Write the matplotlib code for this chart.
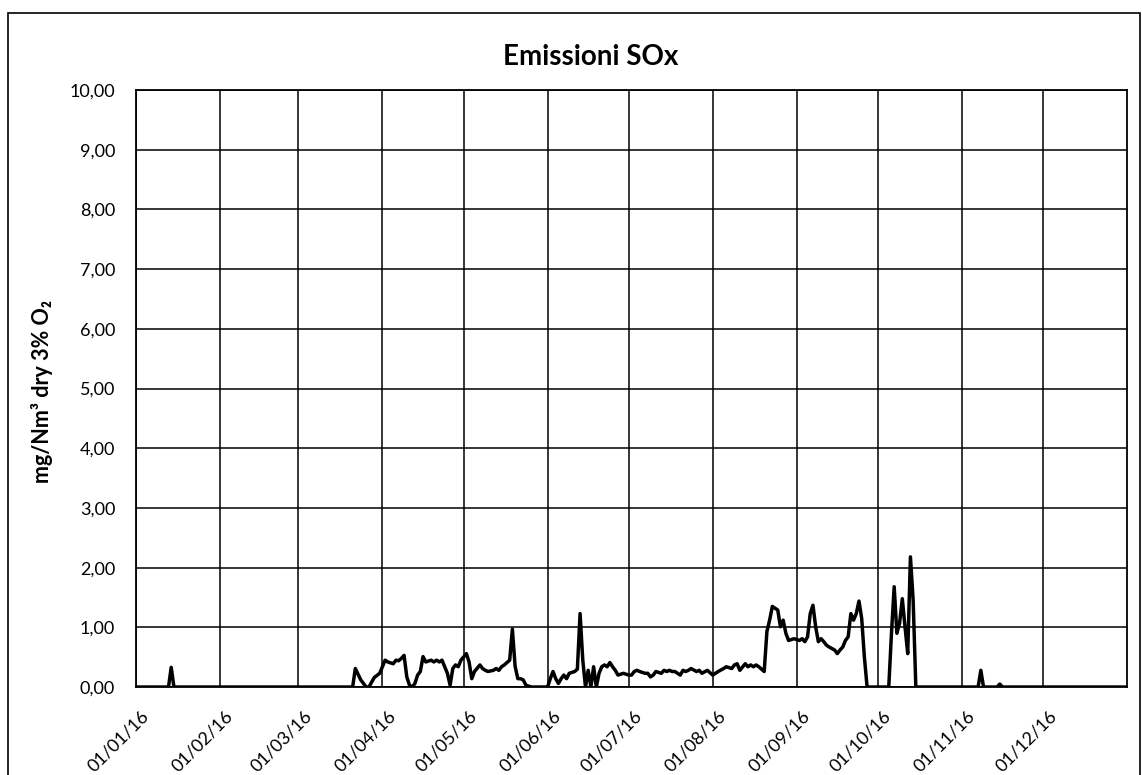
import matplotlib
matplotlib.use("Agg")
import matplotlib.pyplot as plt
import matplotlib.dates as mdates
from matplotlib.patches import Rectangle
from matplotlib.transforms import ScaledTranslation
import numpy as np

plt.rcParams['font.family'] = ['Lato', 'DejaVu Sans']

TITLE = "Emissioni SOx"
Y_LABEL = "mg/Nm³ dry 3% O₂"

# letture giornaliere (valori stimati dal grafico), mg/Nm3
dates = [
    "2016-01-01", "2016-01-13", "2016-01-14", "2016-01-15",
    "2016-03-21", "2016-03-22", "2016-03-24", "2016-03-26", "2016-03-27",
    "2016-03-29", "2016-03-31",
    "2016-04-02", "2016-04-03", "2016-04-05", "2016-04-06", "2016-04-07",
    "2016-04-08", "2016-04-09", "2016-04-10", "2016-04-11", "2016-04-12",
    "2016-04-13", "2016-04-14", "2016-04-15", "2016-04-16", "2016-04-17",
    "2016-04-19", "2016-04-20", "2016-04-21", "2016-04-22", "2016-04-23",
    "2016-04-25", "2016-04-26", "2016-04-27", "2016-04-28", "2016-04-29",
    "2016-04-30",
    "2016-05-02", "2016-05-03", "2016-05-04", "2016-05-05", "2016-05-07",
    "2016-05-08", "2016-05-09", "2016-05-10", "2016-05-12", "2016-05-13",
    "2016-05-14", "2016-05-15", "2016-05-16", "2016-05-18", "2016-05-19",
    "2016-05-20", "2016-05-21", "2016-05-22", "2016-05-23", "2016-05-24",
    "2016-05-26", "2016-06-01",
    "2016-06-02", "2016-06-03", "2016-06-04", "2016-06-05", "2016-06-06",
    "2016-06-07", "2016-06-08", "2016-06-09", "2016-06-11", "2016-06-12",
    "2016-06-13", "2016-06-14", "2016-06-15", "2016-06-16", "2016-06-17",
    "2016-06-18", "2016-06-19", "2016-06-20", "2016-06-21", "2016-06-22",
    "2016-06-23", "2016-06-24", "2016-06-25", "2016-06-26", "2016-06-27",
    "2016-06-29",
    "2016-07-01", "2016-07-02", "2016-07-03", "2016-07-04", "2016-07-05",
    "2016-07-07", "2016-07-08", "2016-07-09", "2016-07-10", "2016-07-11",
    "2016-07-13", "2016-07-14", "2016-07-15", "2016-07-16", "2016-07-17",
    "2016-07-18", "2016-07-20", "2016-07-21", "2016-07-22", "2016-07-23",
    "2016-07-24", "2016-07-26", "2016-07-27", "2016-07-28", "2016-07-30",
    "2016-08-01", "2016-08-03", "2016-08-05", "2016-08-06", "2016-08-08",
    "2016-08-09", "2016-08-10", "2016-08-11", "2016-08-13", "2016-08-14",
    "2016-08-15", "2016-08-16", "2016-08-17", "2016-08-18", "2016-08-20",
    "2016-08-21", "2016-08-22", "2016-08-23", "2016-08-25", "2016-08-26",
    "2016-08-27", "2016-08-28", "2016-08-29", "2016-08-31",
    "2016-09-02", "2016-09-03", "2016-09-04", "2016-09-05", "2016-09-06",
    "2016-09-07", "2016-09-08", "2016-09-09", "2016-09-10", "2016-09-11",
    "2016-09-12", "2016-09-13", "2016-09-15", "2016-09-16", "2016-09-17",
    "2016-09-18", "2016-09-19", "2016-09-20", "2016-09-21", "2016-09-22",
    "2016-09-23", "2016-09-24", "2016-09-25", "2016-09-26", "2016-09-27",
    "2016-10-05", "2016-10-06", "2016-10-07", "2016-10-08", "2016-10-09",
    "2016-10-10", "2016-10-11", "2016-10-12", "2016-10-13", "2016-10-14",
    "2016-10-15",
    "2016-11-07", "2016-11-08", "2016-11-09", "2016-11-14", "2016-11-15",
    "2016-11-16", "2016-12-31",
]
sox = [
    0.0, 0.0, 0.33, 0.0,
    0.0, 0.31, 0.12, 0.0, 0.0,
    0.16, 0.23,
    0.45, 0.42, 0.39, 0.45, 0.44,
    0.48, 0.53, 0.17, 0.03, 0.0,
    0.06, 0.20, 0.26, 0.51, 0.42,
    0.45, 0.42, 0.45, 0.42, 0.45,
    0.23, 0.03, 0.31, 0.37, 0.34,
    0.45,
    0.56, 0.42, 0.14, 0.26, 0.37,
    0.31, 0.28, 0.26, 0.28, 0.31,
    0.28, 0.34, 0.37, 0.45, 0.97,
    0.35, 0.14, 0.14, 0.12, 0.03,
    0.0, 0.0,
    0.14, 0.26, 0.14, 0.06, 0.14,
    0.20, 0.14, 0.23, 0.26, 0.30,
    1.23, 0.45, 0.0, 0.28, 0.0,
    0.34, 0.0, 0.23, 0.34, 0.37,
    0.34, 0.41, 0.34, 0.28, 0.20,
    0.23,
    0.20, 0.20, 0.26, 0.28, 0.26,
    0.23, 0.23, 0.17, 0.20, 0.26,
    0.23, 0.28, 0.26, 0.28, 0.26,
    0.26, 0.20, 0.28, 0.26, 0.28,
    0.31, 0.26, 0.28, 0.23, 0.28,
    0.20, 0.26, 0.31, 0.34, 0.31,
    0.37, 0.39, 0.28, 0.39, 0.34,
    0.37, 0.34, 0.37, 0.34, 0.26,
    0.93, 1.12, 1.35, 1.29, 1.01,
    1.12, 0.90, 0.78, 0.81,
    0.78, 0.81, 0.76, 0.84, 1.23,
    1.37, 1.01, 0.76, 0.81, 0.76,
    0.70, 0.67, 0.62, 0.56, 0.62,
    0.67, 0.78, 0.84, 1.23, 1.12,
    1.23, 1.44, 1.15, 0.50, 0.0,
    0.0, 0.90, 1.68, 0.90, 1.07,
    1.48, 1.01, 0.56, 2.18, 1.46,
    0.0,
    0.0, 0.28, 0.0, 0.0, 0.05,
    0.0, 0.0,
]

# primo giorno di ogni mese, usato come etichetta
month_ticks = np.arange("2016-01", "2017-01", dtype="datetime64[M]").astype("datetime64[D]")

x = np.array(dates, dtype="datetime64[D]")

fig = plt.figure(figsize=(11.42, 7.75), dpi=100)
ax = fig.add_axes([0.1191, 0.1135, 0.8678, 0.7704])

ax.plot(x, sox, color="black", lw=2.5, solid_joinstyle="round")

ax.set_xlim(np.datetime64("2016-01-01"), np.datetime64("2017-01-01"))
ax.set_ylim(0, 10)
ax.set_yticks(np.arange(0, 11, 1))
ax.yaxis.set_major_formatter(plt.FuncFormatter(lambda v, p: f"{v:.2f}".replace(".", ",")))
ax.set_xticks(month_ticks)
ax.xaxis.set_major_formatter(mdates.DateFormatter("%d/%m/%y"))

ax.grid(True, color="black", lw=1.1)
ax.set_axisbelow(True)
for s in ax.spines.values():
    s.set_linewidth(1.3)

ax.tick_params(axis="both", length=0, labelsize=13)
ax.tick_params(axis="y", pad=15)
ax.tick_params(axis="x", pad=15)
for lab in ax.get_xticklabels():
    lab.set_rotation(45)
    lab.set_ha("right")
    lab.set_va("top")
    lab.set_rotation_mode("anchor")
    lab.set_transform(lab.get_transform() + ScaledTranslation(5 / 100, 0, fig.dpi_scale_trans))

fig.text(591 / 1142, 1 - 57 / 775, TITLE, ha="center", va="center",
         fontsize=20, fontweight="bold")
fig.text(42 / 1142, 0.5 - (391 - 387.5) / 775, Y_LABEL, ha="center", va="center",
         rotation=90, fontsize=15.5, fontweight="bold")

fig.patches.append(Rectangle((8 / 1142, -0.05), 1132 / 1142, 1.05 - 13 / 775,
                             transform=fig.transFigure, fill=False,
                             edgecolor="black", lw=1.2))

fig.savefig("out.png", dpi=100)
